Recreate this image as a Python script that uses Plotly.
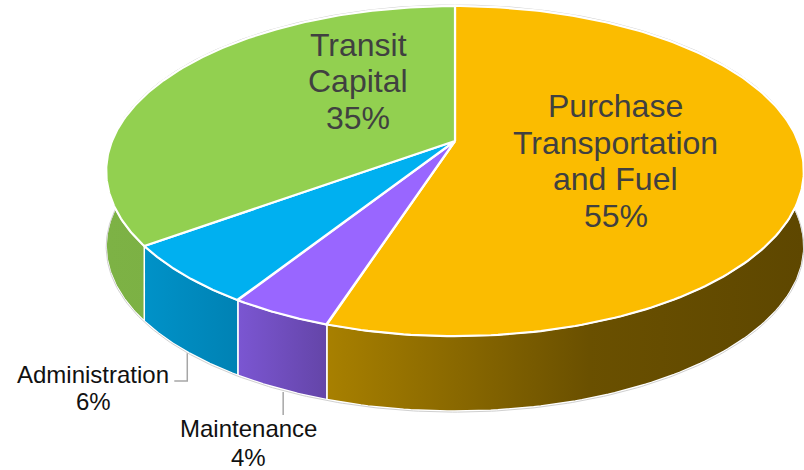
import numpy as np
import plotly.graph_objects as go

# ---- data ----
categories = ["Purchase Transportation and Fuel", "Maintenance", "Administration", "Transit Capital"]
values = [55, 4, 6, 35]
label_lines = [["Purchase", "Transportation", "and Fuel"], ["Maintenance"], ["Administration"], ["Transit", "Capital"]]

# ---- style ----
top_colors = ["#FBBC00", "#9966FF", "#00B0F0", "#92D050"]
wall_scales = [
    [[0, "#A88000"], [0.55, "#6A5000"], [1, "#5E4700"]],
    [[0, "#7B56D2"], [1, "#6445A8"]],
    [[0, "#0092C8"], [1, "#0082B4"]],
    [[0, "#7DB245"], [1, "#76AA3F"]],
]
CX, CY, SX, SY, K, DEPTH = 455, 141, 343, 159.6, 0.182, 75


def proj(t_deg, drop=0.0):
    t = np.radians(np.asarray(t_deg, dtype=float))
    X, Y = np.sin(t), np.cos(t)
    d = 1 + K * Y
    return CX + SX * X / d, CY - SY * Y / d + drop


total = sum(values)
bounds = np.concatenate([[0], np.cumsum(values)]) / total * 360.0

fig = go.Figure()

# walls
for i in range(len(values)):
    t = np.linspace(bounds[i], bounds[i + 1], 200)
    xt, yt = proj(t)
    xb, yb = proj(t[::-1], DEPTH)
    fig.add_trace(go.Scatter(
        x=np.concatenate([xt, xb, xt[:1]]), y=np.concatenate([yt, yb, yt[:1]]),
        mode="lines", fill="toself",
        fillgradient=dict(type="horizontal", colorscale=wall_scales[i]),
        line=dict(color="white", width=1.5), hoverinfo="skip", showlegend=False))

# faint outer outline (front bottom edge, back top edge)
tb = np.linspace(80, 280, 300)
xb, yb = proj(tb, DEPTH)
fig.add_trace(go.Scatter(x=xb, y=yb + 1, mode="lines", line=dict(color="#D0D0D0", width=1),
                         hoverinfo="skip", showlegend=False))
tt = np.linspace(-82, 82, 300)
xt, yt = proj(tt)
fig.add_trace(go.Scatter(x=xt, y=yt - 1, mode="lines", line=dict(color="#D0D0D0", width=1),
                         hoverinfo="skip", showlegend=False))

# top faces
for i in range(len(values)):
    t = np.linspace(bounds[i], bounds[i + 1], 200)
    xt, yt = proj(t)
    fig.add_trace(go.Scatter(
        x=np.concatenate([[CX], xt, [CX]]), y=np.concatenate([[CY], yt, [CY]]),
        mode="lines", fill="toself", fillcolor=top_colors[i],
        line=dict(color="white", width=2.2), hoverinfo="skip", showlegend=False,
        name=categories[i]))

# labels
inside_pos = {0: (615.5, 106, 36.7), 3: (358, 44.5, 36.5)}
outside_pos = {1: (248.5, 428.5, 29), 2: (93, 374, 27.5)}
for i, v in enumerate(values):
    lines = label_lines[i] + [f"{v}%"]
    if i in inside_pos:
        x0, y0, dy = inside_pos[i]
        size, color = 32, "#404040"
    else:
        x0, y0, dy = outside_pos[i]
        size, color = 24, "#111111"
    for j, s in enumerate(lines):
        fig.add_annotation(x=x0, y=y0 + j * dy, text=s, showarrow=False,
                           xanchor="center", yanchor="middle",
                           font=dict(family="Liberation Sans, Arial", size=size, color=color))

# leader lines from mid-slice bottom edge down to outside labels
leader_end = {1: [(0, 415)], 2: [(0, 381), (-13, 381)]}
for i, pts in leader_end.items():
    mid = (bounds[i] + bounds[i + 1]) / 2
    lx, ly = proj(mid, DEPTH)
    lx = float(lx) + 3
    xs, ys = [lx], [float(ly) + 3]
    for dxp, yp in pts:
        xs.append(lx + dxp)
        ys.append(yp)
    fig.add_trace(go.Scatter(x=xs, y=ys, mode="lines", line=dict(color="#A6A6A6", width=1.5),
                             hoverinfo="skip", showlegend=False))

fig.update_layout(
    width=804, height=470, margin=dict(l=0, r=0, t=0, b=0),
    paper_bgcolor="white", plot_bgcolor="white", showlegend=False,
    xaxis=dict(range=[0, 804], visible=False, fixedrange=True),
    yaxis=dict(range=[470, 0], visible=False, fixedrange=True),
)
fig.write_html("out.html", config={"displayModeBar": False},
               post_script="document.body.style.margin='0';document.body.style.overflow='hidden';")
